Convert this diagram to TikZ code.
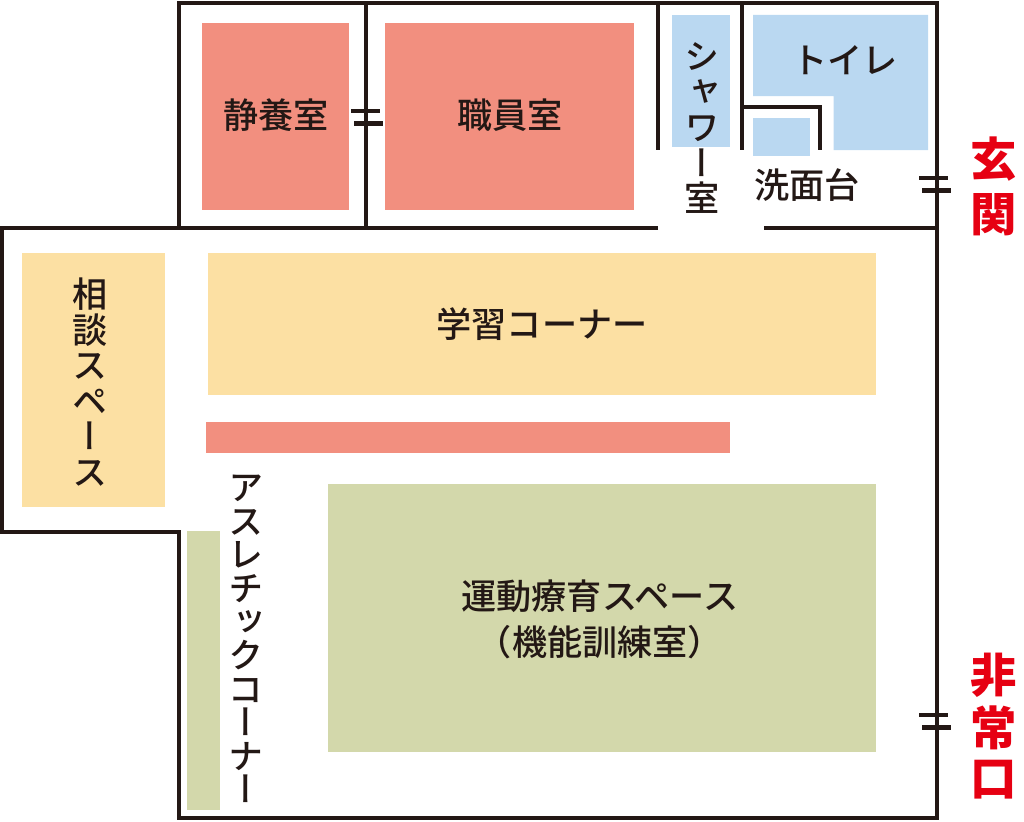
\documentclass[tikz,border=0pt]{standalone}
\usepackage{fontspec}
\usepackage{xcolor}
\setmainfont{Noto Sans CJK JP Medium}
\newfontfamily\vertjp{Noto Sans CJK JP Medium}[Vertical=Alternates]
\newfontfamily\boldjp{Noto Sans CJK JP Black}
\definecolor{wallblack}{HTML}{231815}
\definecolor{roomred}{HTML}{F28F7F}
\definecolor{roomyellow}{HTML}{FCE0A3}
\definecolor{roomblue}{HTML}{BAD8F1}
\definecolor{roomgreen}{HTML}{D3D8AB}
\definecolor{signred}{HTML}{E60012}
\tikzset{
    wall/.style={draw=wallblack, line width=3.4pt, line join=miter},
    door/.style={draw=wallblack, line width=3.4pt},
    label/.style={text=wallblack, inner sep=0pt, font=\fontsize{25}{35}\selectfont},
    vlabel/.style={text=wallblack, inner sep=0pt, align=center, font=\fontsize{25}{25.3}\vertjp},
    sign/.style={text=signred, inner sep=0pt, font=\fontsize{33}{38}\boldjp},
}
\begin{document}
\begin{tikzpicture}[x=0.025cm, y=-0.025cm]
\useasboundingbox (0,0) rectangle (1024,821);

% Rooms
\fill[roomred] (202,23) rectangle (348.5,209.5);
\fill[roomred] (385,23) rectangle (634,209.5);
\fill[roomred] (206,422) rectangle (730,453);
\fill[roomblue] (672,15) rectangle (730,146.5);
\fill[roomblue] (753,15) -- (928,15) -- (928,150) -- (833.5,150) -- (833.5,96) -- (753,96) -- cycle;
\fill[roomblue] (753,118) rectangle (809.5,155.5);
\fill[roomyellow] (22,253) rectangle (164.5,507);
\fill[roomyellow] (208,253) rectangle (876,395);
\fill[roomgreen] (327.5,483.5) rectangle (876,752);
\fill[roomgreen] (187,530.5) rectangle (220,810);

% Outer walls
\draw[wall] (658,228) -- (2,228) -- (2,532) -- (179,532) -- (179,818) -- (937,818) -- (937,3) -- (179,3) -- (179,228);
\draw[wall] (764,228) -- (937,228);

% Inner walls
\draw[wall] (366,3) -- (366,228);
\draw[wall] (658,3) -- (658,150);
\draw[wall] (742,3) -- (742,150);
\draw[wall] (742,107) -- (820,107) -- (820,150);

% Doors
\foreach \xd/\yd in {351/111, 919/178, 919/715} {
    \draw[door] (\xd,\yd) -- +(28.5,0);
    \draw[door] (\xd+3,\yd+12.5) -- +(28.5,0);
}

% Labels
\node[label] (seiyo) at (276,115) {静養室};
\node[label] (shokuin) at (510,115) {職員室};
\node[label] (toilet) at (845,60) {トイレ};
\node[label] (senmen) at (807,185) {洗面台};
\node[label] (gakushu) at (542,324) {学習コーナー};
\node[label, align=center, font=\fontsize{25}{32.7}\selectfont] (undo) at (600,619) {運動療育スペース\\（機能訓練室）};
\node[vlabel] (shower) at (702,128) {シ\\ャ\\ワ\\ー\\室};
\node[vlabel] (sodan) at (90,382) {相\\談\\ス\\ペ\\ー\\ス};
\node[vlabel, font=\fontsize{25}{23.9}\vertjp] (athletic) at (246,639) {ア\\ス\\レ\\チ\\ッ\\ク\\コ\\ー\\ナ\\ー};

% Entrance signs
\node[sign] (gen) at (994,159) {玄};
\node[sign] (kan) at (994,215) {関};
\node[sign] (hi) at (994,675) {非};
\node[sign] (jo) at (994,728) {常};
\node[sign] (kuchi) at (994,780) {口};
\end{tikzpicture}
\end{document}
